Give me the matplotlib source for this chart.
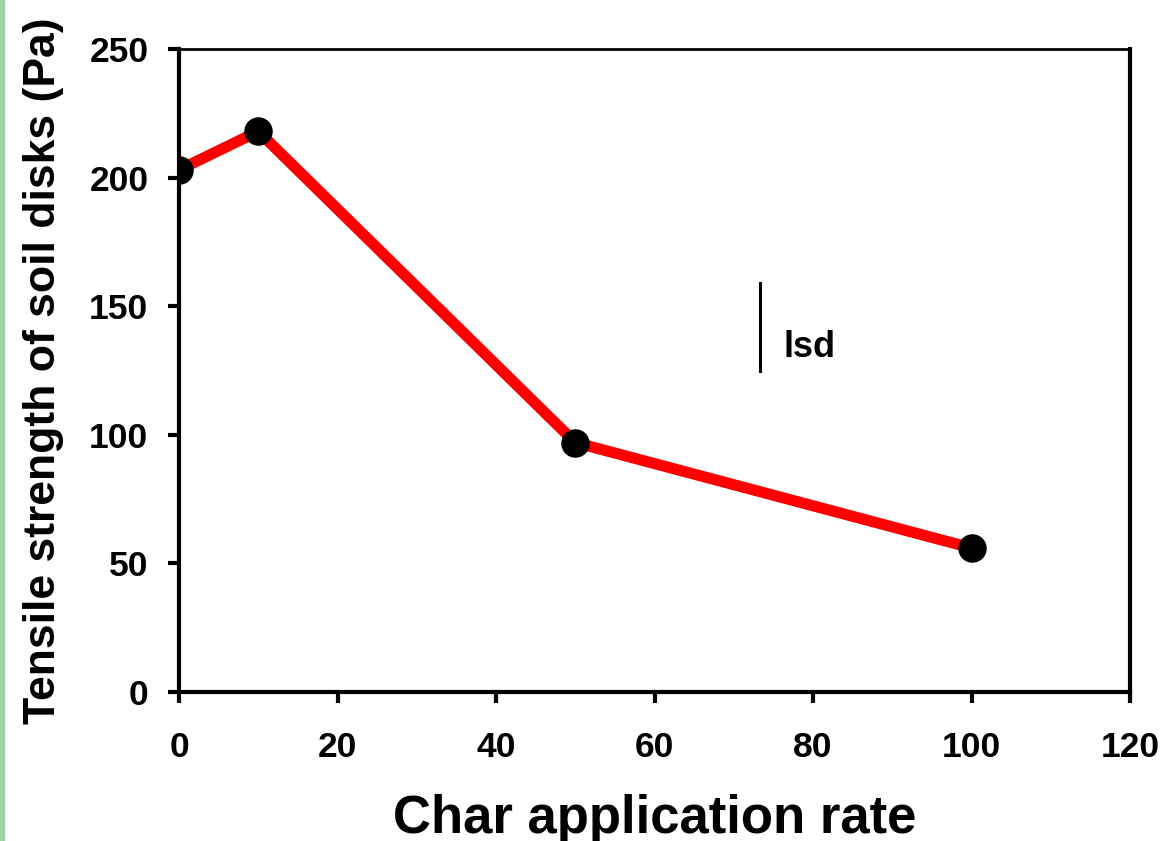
import matplotlib
matplotlib.use("Agg")
import matplotlib.pyplot as plt
from matplotlib.patches import Rectangle

# data
char_rate = [0, 10, 50, 100]
tensile = [203, 218, 97, 56]
lsd_x = 73.3
lsd_lo, lsd_hi = 125, 159
lsd_label_xy = (76.3, 134)

x_ticks = [0, 20, 40, 60, 80, 100, 120]
y_ticks = [0, 50, 100, 150, 200, 250]

plt.rcParams["font.family"] = ["Liberation Sans", "DejaVu Sans"]
plt.rcParams["font.weight"] = "bold"

fig = plt.figure(figsize=(11.64, 8.41), dpi=100)
fig.patches.append(Rectangle((0, 0), 4 / 1164, 1, transform=fig.transFigure,
                             color="#a3d5a3", zorder=0))
ax = fig.add_axes([0.1538, 0.1772, 0.8170, 0.7645])

ax.plot(char_rate, tensile, color="#ff0000", lw=8, zorder=2, solid_capstyle="round")
ax.plot(char_rate, tensile, "o", color="black", ms=19.5, zorder=3)

ax.plot([lsd_x, lsd_x], [lsd_lo, lsd_hi], color="black", lw=2.2)
ax.text(*lsd_label_xy, "lsd", fontsize=26, fontweight="bold", va="center", ha="left")

ax.set_xlim(0, 120)
ax.set_ylim(0, 250)
ax.set_xticks(x_ticks)
ax.set_yticks(y_ticks)
ax.tick_params(direction="out", length=8, width=3, labelsize=25.5)
ax.tick_params(axis="x", pad=20)
ax.tick_params(axis="y", pad=14)
for lab in ax.get_xticklabels() + ax.get_yticklabels():
    lab.set_fontweight("bold")
for side in ["left", "bottom", "right"]:
    ax.spines[side].set_linewidth(3)
ax.spines["top"].set_linewidth(2)
for side in ["left", "bottom"]:
    ax.spines[side].set_zorder(4)

ax.set_xlabel("Char application rate", fontsize=38, fontweight="bold", labelpad=22)
ax.set_ylabel("Tensile strength of soil disks (Pa)", fontsize=32, fontweight="bold",
              labelpad=18)

fig.savefig("out.png", dpi=100)
